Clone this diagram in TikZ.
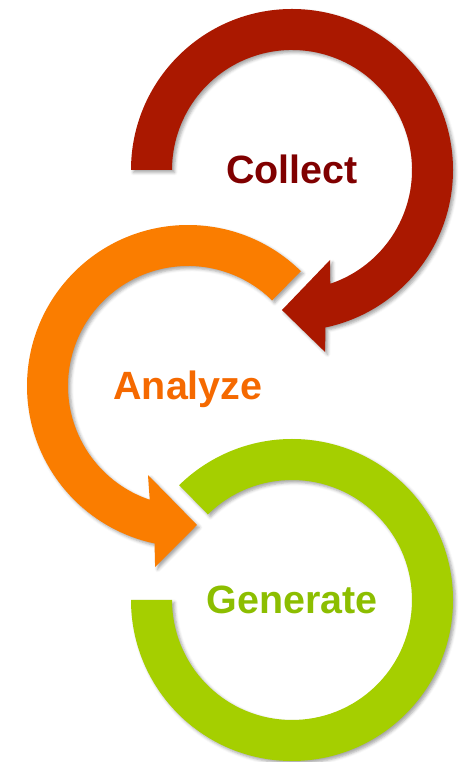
\documentclass[tikz,border=0pt]{standalone}
\usepackage{fontspec}
\setmainfont{Liberation Sans}
\usepackage{xcolor}
\usetikzlibrary{calc,shadows.blur}

\definecolor{collectring}{RGB}{170,24,0}
\definecolor{collecttext}{RGB}{128,0,0}
\definecolor{analyzering}{RGB}{250,125,0}
\definecolor{analyzetext}{RGB}{245,105,0}
\definecolor{generatering}{RGB}{165,207,0}
\definecolor{generatetext}{RGB}{140,190,0}

\begin{document}
\begin{tikzpicture}[x=1bp,y=1bp,
  ring/.style={blur shadow={shadow xshift=2.5bp,shadow yshift=-2.5bp,shadow blur radius=3bp,shadow opacity=35}},
  label/.style={anchor=base,font=\bfseries\fontsize{39.6}{40}\selectfont}]
\useasboundingbox (0,0) rectangle (460,762);
% Centres
\coordinate (rc) at (292,592);
\coordinate (oc) at (188,376);
\coordinate (gc) at (292,162);
% Generate ring
\fill[generatering,ring] ($(gc)+(180:161)$) arc[start angle=180,end angle=494.5,radius=161]
  -- ($(gc)+(494.5:120)$) arc[start angle=494.5,end angle=180,radius=120] -- cycle;
% Analyze arrow
\fill[analyzering,ring] ($(oc)+(45.5:161)$) arc[start angle=45.5,end angle=258,radius=161]
  -- ($(oc)+(259.7:184)$) -- ($(oc)+(273.7:139.3)$) -- ($(oc)+(245.8:97.6)$)
  -- ($(oc)+(251.4:120)$) arc[start angle=251.4,end angle=45.5,radius=120] -- cycle;
% Collect arrow
\fill[collectring,ring] ($(rc)+(180:161)$) arc[start angle=180,end angle=-78,radius=161]
  -- ($(rc)+(-79.7:185)$) -- ($(rc)+(-94.1:140.4)$) -- ($(rc)+(-67.1:97.7)$)
  -- ($(rc)+(-71.4:120)$) arc[start angle=-71.4,end angle=180,radius=120] -- cycle;
% Labels
\node[label,text=collecttext] (collect) at ($(rc)+(0,-14)$) {Collect};
\node[label,text=analyzetext] (analyze) at ($(oc)+(0,-14)$) {Analyze};
\node[label,text=generatetext] (generate) at ($(gc)+(0,-14)$) {Generate};
\end{tikzpicture}
\end{document}
